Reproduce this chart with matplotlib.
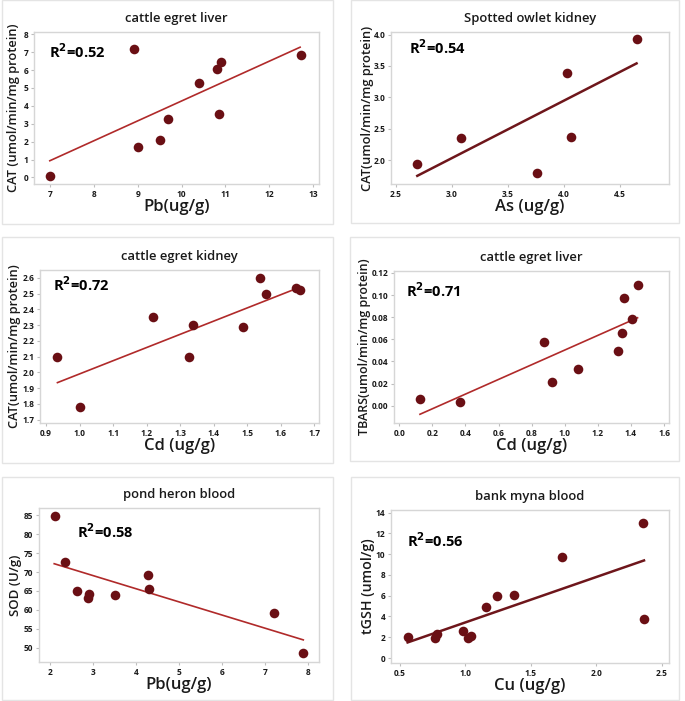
import matplotlib
matplotlib.use("Agg")
import matplotlib.pyplot as plt
from matplotlib.patches import Rectangle

plt.rcParams['font.family'] = ['Open Sans', 'DejaVu Sans']

# ---------------- data ----------------
# Panel 1: cattle egret liver, CAT vs Pb
p1_x = [7.0, 8.91, 9.01, 9.50, 9.70, 10.40, 10.80, 10.90, 10.85, 12.71]
p1_y = [0.10, 7.18, 1.68, 2.07, 3.26, 5.28, 6.06, 6.46, 3.56, 6.87]
p1_fit_x = [7.0, 12.7]
p1_fit_y = [0.93, 7.28]

# Panel 2: Spotted owlet kidney, CAT vs As
p2_x = [2.69, 3.08, 3.76, 4.03, 4.06, 4.65]
p2_y = [1.94, 2.35, 1.79, 3.38, 2.37, 3.93]
p2_fit_x = [2.69, 4.65]
p2_fit_y = [1.75, 3.54]

# Panel 3: cattle egret kidney, CAT vs Cd
p3_x = [0.934, 1.00, 1.218, 1.327, 1.337, 1.488, 1.538, 1.556, 1.646, 1.658]
p3_y = [2.10, 1.78, 2.353, 2.10, 2.30, 2.29, 2.60, 2.50, 2.535, 2.52]
p3_fit_x = [0.934, 1.657]
p3_fit_y = [1.935, 2.54]

# Panel 4: cattle egret liver, TBARS vs Cd
p4_x = [0.125, 0.367, 0.876, 0.922, 1.082, 1.319, 1.343, 1.357, 1.404, 1.442]
p4_y = [0.006, 0.0036, 0.0572, 0.0214, 0.0334, 0.0494, 0.0654, 0.097, 0.0786, 0.1093]
p4_fit_x = [0.125, 1.44]
p4_fit_y = [-0.0078, 0.0795]

# Panel 5: pond heron blood, SOD vs Pb
p5_x = [2.11, 2.34, 2.61, 2.89, 2.88, 3.50, 4.28, 4.30, 7.21, 7.89]
p5_y = [84.7, 72.55, 65.0, 64.1, 63.1, 64.0, 69.1, 65.4, 59.1, 48.5]
p5_fit_x = [2.09, 7.89]
p5_fit_y = [72.2, 52.05]

# Panel 6: bank myna blood, tGSH vs Cu
p6_x = [0.558, 0.77, 0.783, 0.98, 1.02, 1.04, 1.16, 1.245, 1.37, 1.74, 2.36, 2.365]
p6_y = [2.05, 1.90, 2.30, 2.56, 1.96, 2.08, 4.87, 5.93, 6.03, 9.78, 12.98, 3.75]
p6_fit_x = [0.558, 2.365]
p6_fit_y = [1.50, 9.40]

titles = ["cattle egret liver", "Spotted owlet kidney", "cattle egret kidney",
          "cattle egret liver", "pond heron blood", "bank myna blood"]
xlabels = ["Pb(ug/g)", "As (ug/g)", "Cd (ug/g)", "Cd (ug/g)", "Pb(ug/g)", "Cu (ug/g)"]
ylabels = ["CAT (umol/min/mg protein)", "CAT(umol/min/mg protein)",
           "CAT(umol/min/mg protein)", "TBARS(umol/min/mg protein)",
           "SOD (U/g)", "tGSH (umol/g)"]
r2_labels = ["0.52", "0.54", "0.72", "0.71", "0.58", "0.56"]

xticks = [[7, 8, 9, 10, 11, 12, 13],
          [2.5, 3.0, 3.5, 4.0, 4.5],
          [0.9, 1.0, 1.1, 1.2, 1.3, 1.4, 1.5, 1.6, 1.7],
          [0.0, 0.2, 0.4, 0.6, 0.8, 1.0, 1.2, 1.4, 1.6],
          [2, 3, 4, 5, 6, 7, 8],
          [0.5, 1.0, 1.5, 2.0, 2.5]]
yticks = [[0, 1, 2, 3, 4, 5, 6, 7, 8],
          [2.0, 2.5, 3.0, 3.5, 4.0],
          [1.7, 1.8, 1.9, 2.0, 2.1, 2.2, 2.3, 2.4, 2.5, 2.6],
          [0.00, 0.02, 0.04, 0.06, 0.08, 0.10, 0.12],
          [50, 55, 60, 65, 70, 75, 80, 85],
          [0, 2, 4, 6, 8, 10, 12, 14]]
xfmt = ["{:.0f}", "{:.1f}", "{:.1f}", "{:.1f}", "{:.0f}", "{:.1f}"]
yfmt = ["{:.0f}", "{:.1f}", "{:.1f}", "{:.2f}", "{:.0f}", "{:.0f}"]

xlims = [(6.64, 13.13), (2.455, 4.94), (0.882, 1.714), (-0.032, 1.63), (1.736, 8.256), (0.431, 2.556)]
ylims = [(-0.37, 8.13), (1.62, 4.04), (1.679, 2.649), (-0.0157, 0.1218), (46.2, 86.94), (-0.48, 14.26)]

# ---------------- layout (pixels) ----------------
W, H = 685, 701
axes_px = [(34, 319, 32, 184), (391, 669, 32, 184),
           (40, 319, 270, 423), (394, 669, 271, 423),
           (39, 319, 508, 662), (391, 669, 510, 663)]
panel_px = [(2, 333, 0, 224), (351, 679, 0, 223),
            (2, 333, 237, 463), (350, 679, 237, 461),
            (2, 333, 477, 700), (351, 679, 477, 700)]
ylabel_dx = [-20, -23, -25, -29.5, -24, -23]   # px left of axes
ylabel_size = [9.3, 9.3, 9.2, 9.0, 9.5, 10.2]
r2_pos = [(0.052, 0.873), (0.065, 0.895), (0.047, 0.902),
          (0.045, 0.871), (0.137, 0.848), (0.056, 0.80)]
line_colors = ["#b02a2a", "#6e161b", "#b02a2a", "#b02a2a", "#b02a2a", "#6e161b"]
line_widths = [1.2, 1.8, 1.2, 1.2, 1.2, 1.8]
marker_color = "#6a0f14"

data = [(p1_x, p1_y, p1_fit_x, p1_fit_y), (p2_x, p2_y, p2_fit_x, p2_fit_y),
        (p3_x, p3_y, p3_fit_x, p3_fit_y), (p4_x, p4_y, p4_fit_x, p4_fit_y),
        (p5_x, p5_y, p5_fit_x, p5_fit_y), (p6_x, p6_y, p6_fit_x, p6_fit_y)]

fig = plt.figure(figsize=(W / 100, H / 100), dpi=100)
fig.patch.set_facecolor("white")

for i in range(6):
    l, r, t, b = panel_px[i]
    fig.patches.append(Rectangle((l / W, 1 - b / H), (r - l) / W, (b - t) / H,
                                 transform=fig.transFigure, fill=False,
                                 edgecolor="#e4e4e4", linewidth=1.0))
    l, r, t, b = axes_px[i]
    aw, ah = r - l, b - t
    ax = fig.add_axes([l / W, 1 - b / H, aw / W, ah / H])
    x, y, fx, fy = data[i]
    ax.plot(fx, fy, color=line_colors[i], linewidth=line_widths[i], zorder=2)
    ax.scatter(x, y, s=48, color=marker_color, zorder=3, linewidths=0)
    ax.set_xlim(*xlims[i])
    ax.set_ylim(*ylims[i])
    ax.set_xticks(xticks[i])
    ax.set_xticklabels([xfmt[i].format(v) for v in xticks[i]])
    ax.set_yticks(yticks[i])
    ax.set_yticklabels([yfmt[i].format(v) for v in yticks[i]])
    for s in ax.spines.values():
        s.set_color("#d6d6d6")
        s.set_linewidth(1.0)
    ax.tick_params(axis="both", length=2.5, width=0.8, color="#bdbdbd",
                   labelsize=6, labelcolor="#1a1a1a", pad=1.5)
    for lab in ax.get_xticklabels() + ax.get_yticklabels():
        lab.set_fontweight("bold")
    ax.set_title(titles[i], fontsize=9.4, fontweight="semibold", color="#1a1a1a", pad=7)
    ax.set_xlabel(xlabels[i], fontsize=12, fontweight="semibold", color="#1a1a1a",
                  va="center")
    ax.xaxis.set_label_coords(0.5, -23 / ah)
    ax.set_ylabel(ylabels[i], fontsize=ylabel_size[i], fontweight="semibold",
                  color="#1a1a1a", va="center")
    ax.yaxis.set_label_coords(ylabel_dx[i] / aw, 0.5)
    ax.text(r2_pos[i][0], r2_pos[i][1], "R$^{\\mathbf{2}}$=" + r2_labels[i],
            transform=ax.transAxes, fontsize=10.5, fontweight="bold",
            va="center", ha="left", color="black")

fig.savefig("out.png", dpi=100, facecolor="white")
